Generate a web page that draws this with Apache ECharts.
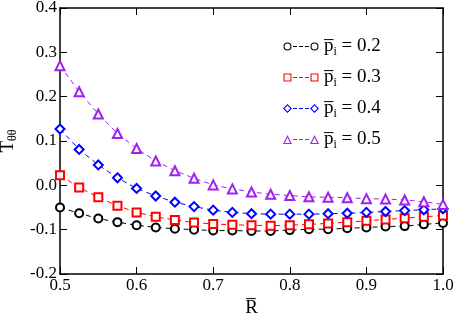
<!DOCTYPE html>
<html><head><meta charset="utf-8">
<script src="https://cdn.jsdelivr.net/npm/echarts@6/dist/echarts.min.js"></script>
<style>html,body{margin:0;padding:0;background:#fff}#c{width:455px;height:313px}</style>
</head><body><div id="c"></div>
<script>
const xValues = [0.5,0.525,0.55,0.575,0.6,0.625,0.65,0.675,0.7,0.725,0.75,0.775,0.8,0.825,0.85,0.875,0.9,0.925,0.95,0.975,1.0];
const p02 = [-0.050,-0.063,-0.075,-0.083,-0.090,-0.095,-0.098,-0.100,-0.102,-0.102,-0.103,-0.103,-0.101,-0.099,-0.099,-0.097,-0.095,-0.093,-0.092,-0.088,-0.085];
const p03 = [0.023,-0.005,-0.027,-0.046,-0.061,-0.071,-0.078,-0.084,-0.087,-0.089,-0.090,-0.091,-0.090,-0.088,-0.086,-0.083,-0.080,-0.077,-0.074,-0.071,-0.068];
const p04 = [0.127,0.081,0.046,0.017,-0.007,-0.024,-0.038,-0.048,-0.056,-0.061,-0.064,-0.065,-0.065,-0.065,-0.064,-0.063,-0.061,-0.059,-0.057,-0.055,-0.053];
const p05 = [0.270,0.211,0.161,0.117,0.083,0.055,0.033,0.016,0.001,-0.008,-0.015,-0.020,-0.023,-0.026,-0.027,-0.028,-0.030,-0.031,-0.033,-0.037,-0.043];
const seriesNames = ['0.2','0.3','0.4','0.5'];
const seriesData = [p02,p03,p04,p05];
const colors = ['#000000','#ff0000','#0000ff','#a020f0'];
const symbols = ['circle','rect','diamond','triangle'];

const font = 'Liberation Serif';
// legend icons: hollow marker - dashes - hollow marker (36 x 10 box)
const dashes = 'M10,4.5L14,4.5L14,5.5L10,5.5Z M16,4.5L20,4.5L20,5.5L16,5.5Z M22,4.5L26,4.5L26,5.5L22,5.5Z';
function ring(shape, cx){
  const a = cx;
  if (shape==='circle') return 'M'+(a-4)+',5A4,4 0 1,0 '+(a+4)+',5A4,4 0 1,0 '+(a-4)+',5Z M'+(a-2.9)+',5A2.9,2.9 0 1,1 '+(a+2.9)+',5A2.9,2.9 0 1,1 '+(a-2.9)+',5Z';
  if (shape==='rect') return 'M'+(a-4)+',1L'+(a+4)+',1L'+(a+4)+',9L'+(a-4)+',9Z M'+(a-2.9)+',2.1L'+(a-2.9)+',7.9L'+(a+2.9)+',7.9L'+(a+2.9)+',2.1Z';
  if (shape==='diamond') return 'M'+a+',0.5L'+(a+4.5)+',5L'+a+',9.5L'+(a-4.5)+',5Z M'+a+',2.1L'+(a-2.9)+',5L'+a+',7.9L'+(a+2.9)+',5Z';
  return 'M'+a+',0.5L'+(a+4.5)+',9.5L'+(a-4.5)+',9.5Z M'+a+',3L'+(a-2.7)+',8.4L'+(a+2.7)+',8.4Z';
}
function legendIcon(shape){
  let p = 'M0,0L0.01,0L0.01,0.01Z M35.99,9.99L36,9.99L36,10Z ';
  return 'path://' + p + ring(shape,4.5) + ' ' + dashes + ' ' + ring(shape,31.5);
}

const chart = echarts.init(document.getElementById('c'), null, {renderer:'canvas'});
const axisLine = {show:true, onZero:false, lineStyle:{color:'#000', width:1.5}};
const axisTick = {show:true, inside:true, length:7, lineStyle:{color:'#000', width:1}};
const option = {
  animation:false,
  grid:{left:60, top:8, right:12, bottom:39, containLabel:false, outerBoundsMode:'none'},
  legend:{
    orient:'vertical', left:278, top:32, itemGap:10, itemWidth:36, itemHeight:10,
    data: seriesNames.map((n,i) => ({name:'p' + n, icon: legendIcon(symbols[i])})),
    itemStyle:{borderWidth:0},
    formatter: name => '{p|p\u0305}{s|i}{t| = ' + name.slice(1) + '}',
    textStyle:{fontFamily:font, fontSize:19, color:'#000',
      rich:{p:{fontFamily:font,fontSize:19}, s:{fontFamily:font,fontSize:12,padding:[11,0,0,0]}, t:{fontFamily:font,fontSize:19}}}
  },
  xAxis:[{
    type:'value', min:0.5, max:1.0, interval:0.1,
    name:'R\u0305', nameLocation:'middle', nameGap:24,
    nameTextStyle:{fontFamily:font, fontSize:19, color:'#000'},
    axisLine, axisTick, splitLine:{show:false},
    axisLabel:{fontFamily:font, fontSize:17, color:'#000', margin:3, formatter:v=>v.toFixed(1)}
  },{
    type:'value', position:'top', min:0.5, max:1.0, interval:0.1,
    axisLine, axisTick, splitLine:{show:false}, axisLabel:{show:false}
  }],
  yAxis:[{
    type:'value', min:-0.2, max:0.4, interval:0.1,
    name:'{t|T\u0305}{s|θθ}', nameLocation:'middle', nameGap:38, nameRotate:90,
    nameTextStyle:{fontFamily:font, fontSize:19, color:'#000',
      rich:{t:{fontFamily:font,fontSize:19}, s:{fontFamily:font,fontSize:12,padding:[11,0,0,0]}}},
    axisLine, axisTick, splitLine:{show:false},
    axisLabel:{fontFamily:font, fontSize:17, color:'#000', margin:3, formatter:v=>v.toFixed(1)}
  },{
    type:'value', position:'right', min:-0.2, max:0.4, interval:0.1,
    axisLine, axisTick, splitLine:{show:false}, axisLabel:{show:false}
  }],
  series: seriesData.map((d,i)=>({
    name:'p'+seriesNames[i], type:'line',
    data: d.map((v,j)=>[xValues[j], v]),
    symbol: 'empty'+symbols[i][0].toUpperCase()+symbols[i].slice(1),
    symbolSize: symbols[i]==='diamond'?9:(symbols[i]==='triangle'?9:8),
    showAllSymbol:true,
    lineStyle:{color:colors[i], width:1, type:[5,4]},
    itemStyle:{color:colors[i], borderColor:colors[i], borderWidth:1},
    emphasis:{disabled:true}
  }))
};
chart.setOption(option);
</script></body></html>
